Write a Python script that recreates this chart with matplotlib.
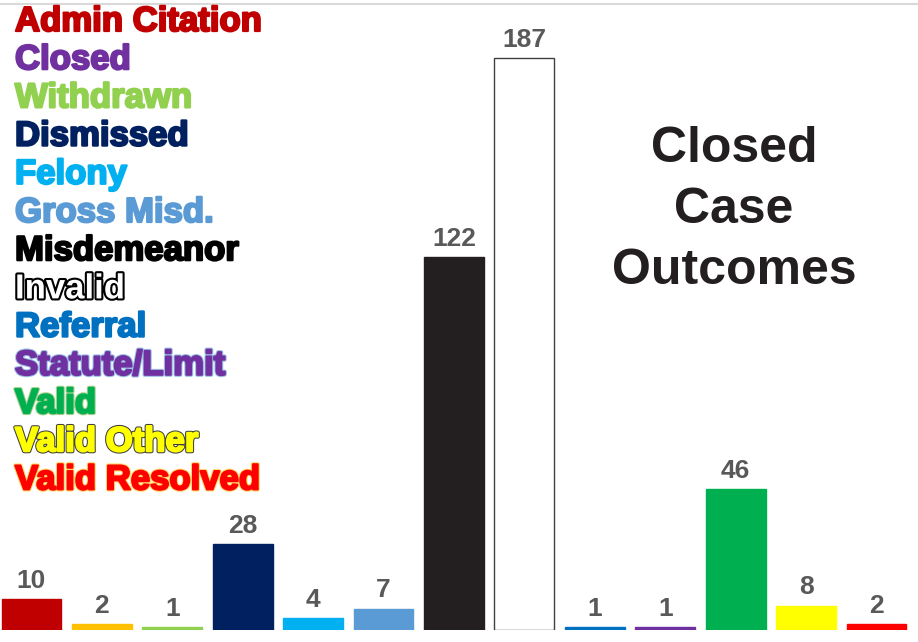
import matplotlib
matplotlib.use("Agg")
import matplotlib.pyplot as plt
import matplotlib.patheffects as pe

# data
categories = ["Admin Citation", "Closed", "Withdrawn", "Dismissed", "Felony",
              "Gross Misd.", "Misdemeanor", "Invalid", "Referral",
              "Statute/Limit", "Valid", "Valid Other", "Valid Resolved"]
counts = [10, 2, 1, 28, 4, 7, 122, 187, 1, 1, 46, 8, 2]
bar_colors = ["#C00000", "#FFC000", "#92D050", "#002060", "#00B0F0", "#5B9BD5",
              "#231F20", "#FFFFFF", "#0070C0", "#7030A0", "#00B050", "#FFFF00",
              "#FF0000"]
text_colors = ["#C00000", "#7030A0", "#92D050", "#002060", "#00B0F0", "#5B9BD5",
               "#000000", "#FFFFFF", "#0070C0", "#7030A0", "#00B050", "#FFFF00",
               "#FF0000"]
text_outlines = [None, None, None, None, None, None, None, "#000000", None,
                 "#9DC3E6", "#A9D18E", "#404040", "#FFD966"]
title_lines = ["Closed", "Case", "Outcomes"]

plt.rcParams['font.family'] = ['Liberation Sans', 'DejaVu Sans']

W, H = 918, 642
fig = plt.figure(figsize=(W / 100, H / 100), dpi=100)
ax = fig.add_axes([0, 12 / H, 1, 626 / H])

x = range(len(categories))
edges = ["#404040" if c == "#FFFFFF" else c for c in bar_colors]
ax.bar(x, counts, width=0.85, color=bar_colors, edgecolor=edges, linewidth=1)

for i, v in enumerate(counts):
    ax.annotate(str(v), (i, v), xytext=(0, 8), textcoords="offset points",
                ha="center", va="baseline", fontsize=19, fontweight="bold",
                color="#595959")

ax.set_xlim(-0.447, 12.59)
ax.set_ylim(0, 204.6)
ax.set_xticks([])
ax.set_yticks([])
for s in ["left", "right", "bottom"]:
    ax.spines[s].set_visible(False)
ax.spines["top"].set_color("#D9D9D9")
ax.spines["top"].set_linewidth(1.5)

# colored label list on the left
for i, (name, col, ol) in enumerate(zip(categories, text_colors, text_outlines)):
    base = 31 + 38.2 * i
    if ol == "#000000":
        effects = [pe.Stroke(linewidth=3, foreground=ol), pe.Normal()]
    elif ol:
        effects = [pe.Stroke(linewidth=3, foreground=ol),
                   pe.Stroke(linewidth=1.5, foreground=col), pe.Normal()]
    else:
        effects = [pe.Stroke(linewidth=1.6, foreground=col), pe.Normal()]
    fig.text(15 / W, 1 - base / H, name, fontsize=25, fontweight="bold",
             color=col, ha="left", va="baseline", path_effects=effects)

# title block
for j, line in enumerate(title_lines):
    base = 162 + 61 * j
    fig.text(734 / W, 1 - base / H, line, fontsize=36, fontweight="bold",
             color="#231F20", ha="center", va="baseline")

fig.savefig("out.png", dpi=100)
